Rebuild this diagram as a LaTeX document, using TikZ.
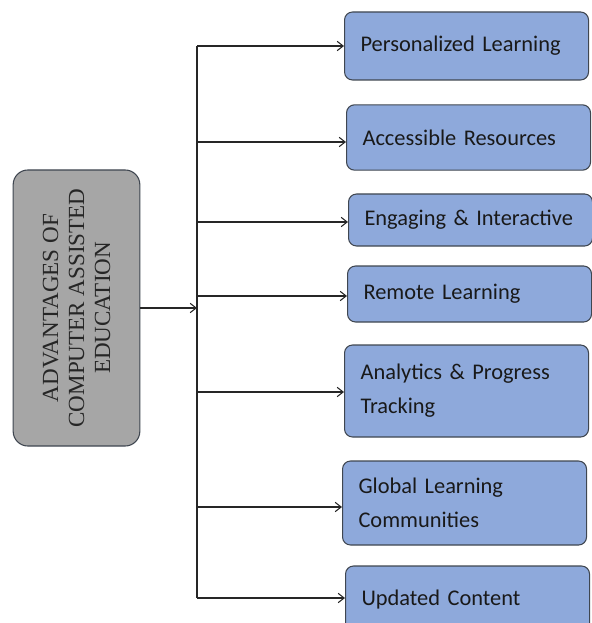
\documentclass[tikz,border=0pt]{standalone}
\usepackage{fontspec}
\setmainfont{Liberation Serif}
\newfontfamily\itemfont{Carlito}
\usetikzlibrary{positioning,arrows.meta}
\definecolor{itemblue}{HTML}{8EA9DB}
\definecolor{maingray}{HTML}{A6A6A6}
\definecolor{edgegray}{HTML}{3F4650}
\tikzset{every picture/.style={x=0.75pt, y=-0.75pt}}
\tikzset{main box/.style={draw=edgegray, fill=maingray, rounded corners=11pt, line width=0.8pt,
    minimum width=95pt, minimum height=207pt}}
\tikzset{main text/.style={rotate=90, align=center, text=black!85,
    font=\fontsize{17.3}{19.5}\selectfont}}
\tikzset{item box/.style={draw=edgegray, fill=itemblue, rounded corners=6pt, line width=0.8pt,
    anchor=west, minimum width=183pt, text width=159pt, inner xsep=12pt, align=left,
    text=black!90, font=\itemfont\fontsize{16.8}{25.5}\selectfont}}
\tikzset{link/.style={-{Straight Barb[length=4.5pt, width=7pt]}, line width=0.8pt, black!85}}

\begin{document}
\begin{tikzpicture}
\useasboundingbox (0,0) rectangle (591,623);
\node[main box] (adv) at (76.5,308) {};
\node[main text] (advtext) at (adv.center) {ADVANTAGES OF\\COMPUTER ASSISTED\\EDUCATION};
\node[item box, minimum height=51pt] (pers) at (344,46) {Personalized Learning};
\node[item box, minimum height=49pt] (acc) at (346,137.5) {Accessible Resources};
\node[item box, minimum height=39pt] (eng) at (348,220) {Engaging \& Interactive};
\node[item box, minimum height=42pt] (rem) at (347,294) {Remote Learning};
\node[item box, minimum height=69pt] (ana) at (344,391) {Analytics \& Progress\\Tracking};
\node[item box, minimum height=63pt] (glob) at (342,503) {Global Learning\\Communities};
\node[item box, minimum height=51pt] (upd) at (345,600) {Updated Content};
% trunk
\coordinate (top) at (197,46);
\coordinate (bot) at (197,598);
\coordinate (hub) at (197,308);
\draw[line width=0.8pt, black!85] (top) -- (bot);
\draw[link] (adv.east) -- (hub);
% branches
\coordinate (b1) at (197,46);
\coordinate (b2) at (197,142);
\coordinate (b3) at (197,222);
\coordinate (b4) at (197,296);
\coordinate (b5) at (197,392);
\coordinate (b6) at (197,507);
\coordinate (b7) at (197,598);
\draw[link] (b1) -- (b1 -| pers.west);
\draw[link] (b2) -- (b2 -| acc.west);
\draw[link] (b3) -- (b3 -| eng.west);
\draw[link] (b4) -- (b4 -| rem.west);
\draw[link] (b5) -- (b5 -| ana.west);
\draw[link] (b6) -- (b6 -| glob.west);
\draw[link] (b7) -- (b7 -| upd.west);
\end{tikzpicture}
\end{document}
